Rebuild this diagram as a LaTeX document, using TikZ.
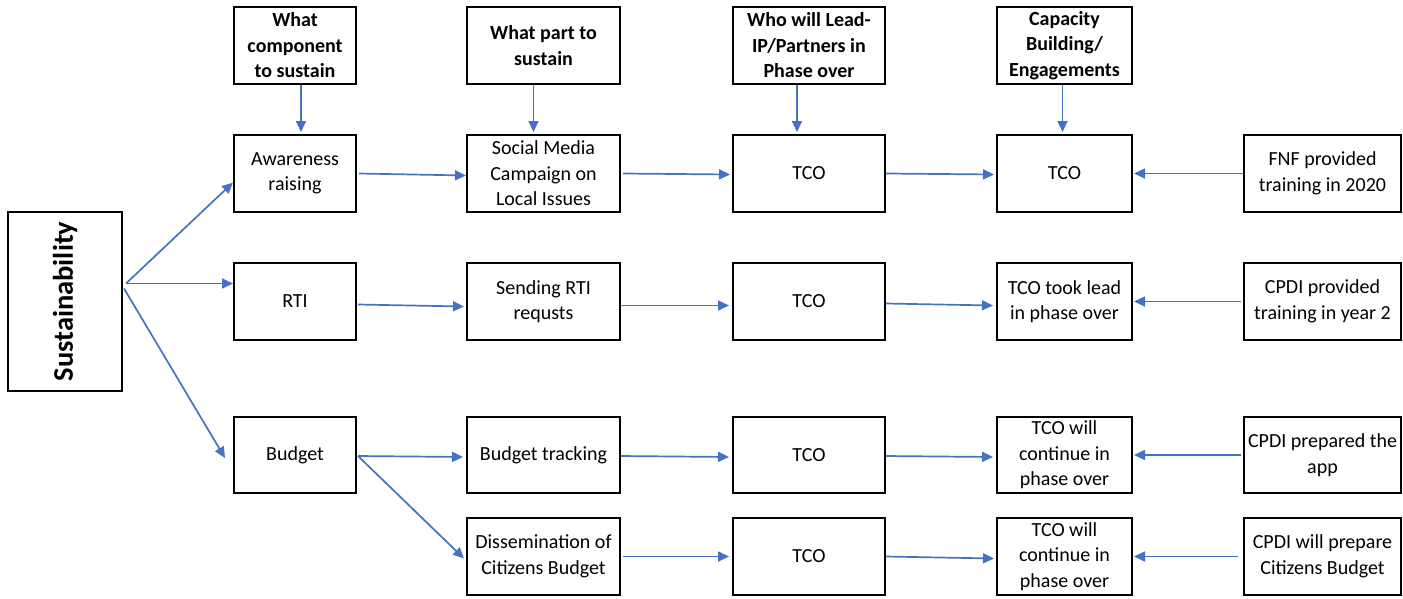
\documentclass[tikz,border=0pt]{standalone}
\usepackage{fontspec}
\setmainfont{Carlito}
\usetikzlibrary{arrows.meta}
\definecolor{arrblue}{HTML}{4472C4}
\tikzset{
  box/.style={draw=black, line width=2pt, fill=white, align=center, inner sep=1pt,
    font=\fontsize{20}{25.5}\selectfont},
  hbox/.style={box, font=\fontsize{20}{25.5}\selectfont\bfseries},
  arr/.style={draw=arrblue, line width=1.7pt, -{Triangle[length=11pt,width=10pt]}},
}
\begin{document}
\begin{tikzpicture}[x=1pt,y=-1pt]
\useasboundingbox (0,0) rectangle (1403,598);
% headers
\node[hbox, minimum width=122pt, minimum height=77pt] (h1) at (295,45.5) {What\\component\\to sustain};
\node[hbox, minimum width=153pt, minimum height=77pt] (h2) at (543.5,45.5) {What part to\\sustain};
\node[hbox, minimum width=152pt, minimum height=77pt] (h3) at (809,45.5) {Who will Lead-\\IP/Partners in\\Phase over};
\node[hbox, minimum width=135pt, minimum height=77pt] (h4) at (1064.5,45.5) {Capacity\\Building/\\Engagements};
% sustainability
\node[box, minimum width=114pt, minimum height=179pt] (sus) at (65,301.5) {};
\node[rotate=90, font=\fontsize{28.5}{32}\selectfont\bfseries] (sustxt) at (65,301.5) {Sustainability};
% row 1
\node[box, minimum width=122pt, minimum height=77pt] (aw) at (295,173.5) {Awareness\\raising};
\node[box, minimum width=153pt, minimum height=77pt] (sm) at (543.5,173.5) {Social Media\\Campaign on\\Local Issues};
\node[box, minimum width=152pt, minimum height=77pt] (t1) at (809,173.5) {TCO};
\node[box, minimum width=135pt, minimum height=77pt] (c1) at (1064.5,173.5) {TCO};
\node[box, minimum width=157pt, minimum height=77pt] (f1) at (1322.5,173.5) {FNF provided\\training in 2020};
% row 2
\node[box, minimum width=122pt, minimum height=77pt] (rti) at (295,301.5) {RTI};
\node[box, minimum width=153pt, minimum height=77pt] (sr) at (543.5,301.5) {Sending RTI\\requsts};
\node[box, minimum width=152pt, minimum height=77pt] (t2) at (809,301.5) {TCO};
\node[box, minimum width=135pt, minimum height=77pt] (c2) at (1064.5,301.5) {TCO took lead\\in phase over};
\node[box, minimum width=157pt, minimum height=77pt] (f2) at (1322.5,301.5) {CPDI provided\\training in year 2};
% row 3
\node[box, minimum width=122pt, minimum height=76pt] (bud) at (295,455) {Budget};
\node[box, minimum width=153pt, minimum height=76pt] (bt) at (543.5,455) {Budget tracking};
\node[box, minimum width=152pt, minimum height=76pt] (t3) at (809,455) {TCO};
\node[box, minimum width=135pt, minimum height=76pt] (c3) at (1064.5,455) {TCO will\\continue in\\phase over};
\node[box, minimum width=157pt, minimum height=76pt] (f3) at (1322.5,455) {CPDI prepared the\\app};
% row 4
\node[box, minimum width=153pt, minimum height=77pt] (dis) at (543.5,556.5) {Dissemination of\\Citizens Budget};
\node[box, minimum width=152pt, minimum height=77pt] (t4) at (809,556.5) {TCO};
\node[box, minimum width=135pt, minimum height=77pt] (c4) at (1064.5,556.5) {TCO will\\continue in\\phase over};
\node[box, minimum width=157pt, minimum height=77pt] (f4) at (1322.5,556.5) {CPDI will prepare\\Citizens Budget};
% header arrows
\draw[arr] ([xshift=6pt]h1.south) -- ([xshift=6pt,yshift=2pt]aw.north);
\draw[arr] ([xshift=-10pt]h2.south) -- ([xshift=-10pt,yshift=2pt]sm.north);
\draw[arr] ([xshift=-12pt]h3.south) -- ([xshift=-12pt,yshift=2pt]t1.north);
\draw[arr] ([xshift=-2pt]h4.south) -- ([xshift=-2pt,yshift=2pt]c1.north);
% sustainability arrows
\coordinate (s1) at ([xshift=3pt,yshift=18pt]sus.east);
\coordinate (s2) at ([xshift=1pt,yshift=13pt]sus.east);
\draw[arr] (s1) -- ([yshift=-9pt]aw.west);
\draw[arr] (s1) -- ([yshift=18pt]rti.west);
\draw[arr] (s2) -- ([xshift=-8pt,yshift=-3pt]bud.west);
% row arrows
\draw[arr] ([xshift=2pt]aw.east) -- ([yshift=-2pt]sm.west);
\draw[arr] ([xshift=2pt]sm.east) -- ([xshift=-2pt,yshift=-1pt]t1.west);
\draw[arr] (t1.east) -- ([xshift=-2pt,yshift=-1pt]c1.west);
\draw[arr] (f1.west) -- ([xshift=1pt]c1.east);
\draw[arr] ([xshift=1pt,yshift=-3pt]rti.east) -- ([xshift=-2pt,yshift=-5pt]sr.west);
\draw[arr] ([yshift=-4pt]sr.east) -- ([xshift=-3pt,yshift=-4pt]t2.west);
\draw[arr] ([yshift=-2pt]t2.east) -- ([xshift=-3pt,yshift=-4pt]c2.west);
\draw[arr] ([xshift=-2pt]f2.west) -- ([xshift=1pt]c2.east);
\draw[arr] ([xshift=1pt,yshift=-1pt]bud.east) -- ([xshift=-3pt,yshift=-2pt]bt.west);
\draw[arr] ([xshift=1pt,yshift=-1pt]bud.east) -- ([xshift=-2pt,yshift=-2pt]dis.west);
\draw[arr] ([yshift=-1pt]bt.east) -- ([xshift=-3pt,yshift=-2pt]t3.west);
\draw[arr] ([yshift=-1pt]t3.east) -- ([xshift=-3pt,yshift=-2pt]c3.west);
\draw[arr] ([xshift=-2pt]f3.west) -- ([xshift=1pt]c3.east);
\draw[arr] ([xshift=2pt]dis.east) -- ([xshift=-3pt]t4.west);
\draw[arr] (t4.east) -- ([xshift=-2pt,yshift=-2pt]c4.west);
\draw[arr] ([xshift=-5pt]f4.west) -- ([xshift=1pt]c4.east);
\end{tikzpicture}
\end{document}
